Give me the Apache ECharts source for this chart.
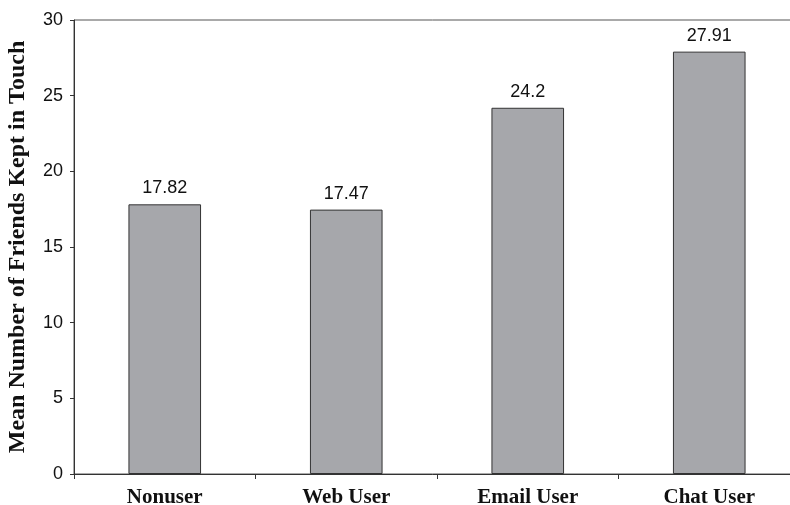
<!DOCTYPE html>
<html>
<head>
<meta charset="utf-8">
<script src="https://cdn.jsdelivr.net/npm/echarts@6/dist/echarts.min.js"></script>
<style>html,body{margin:0;padding:0;background:#fff}#c{width:790px;height:505px}</style>
</head>
<body>
<div id="c"></div>
<script>
var categories = ["Nonuser", "Web User", "Email User", "Chat User"];
var values = [17.82, 17.47, 24.2, 27.91];
var labels = ["17.82", "17.47", "24.2", "27.91"];
var yTitle = "Mean Number of Friends Kept in Touch";

var chart = echarts.init(document.getElementById('c'), null, {renderer: 'canvas'});
chart.setOption({
  animation: false,
  backgroundColor: '#ffffff',
  grid: {left: 74, right: -10, top: 20, bottom: 31, outerBoundsMode: 'none', containLabel: false, show: true, borderColor: '#555555', borderWidth: 1, backgroundColor: 'transparent'},
  xAxis: {
    type: 'category',
    data: categories,
    axisLine: {lineStyle: {color: '#333333', width: 1}},
    axisTick: {show: true, length: 5, lineStyle: {color: '#333333'}, alignWithLabel: false},
    axisLabel: {fontFamily: 'Liberation Serif', fontWeight: 'bold', fontSize: 21, color: '#111111', margin: 13}
  },
  yAxis: {
    type: 'value',
    min: 0, max: 30, interval: 5,
    name: yTitle,
    nameLocation: 'middle',
    nameGap: 44,
    nameTextStyle: {fontFamily: 'Liberation Serif', fontWeight: 'bold', fontSize: 24, color: '#111111'},
    axisLine: {show: true, lineStyle: {color: '#333333', width: 1}},
    axisTick: {show: true, length: 4, lineStyle: {color: '#333333'}},
    axisLabel: {fontFamily: 'Liberation Sans', fontSize: 18, color: '#111111', margin: 11},
    splitLine: {show: false}
  },
  series: [{
    type: 'bar',
    data: values,
    barWidth: '40%',
    itemStyle: {color: '#a6a7ab', borderColor: '#333333', borderWidth: 1},
    label: {
      show: true, position: 'top', distance: 7,
      fontFamily: 'Liberation Sans', fontSize: 18, color: '#111111',
      formatter: function (p) { return labels[p.dataIndex]; }
    }
  }]
});
</script>
</body>
</html>
